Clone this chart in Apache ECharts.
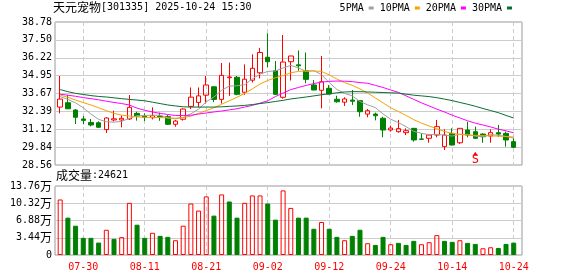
<!DOCTYPE html>
<html><head><meta charset="utf-8">
<script src="https://cdn.jsdelivr.net/npm/echarts@6/dist/echarts.min.js"></script>
<style>html,body{margin:0;padding:0;background:#fff}#c{width:578px;height:276px}</style>
</head><body><div id="c"></div>
<script>
const dates = ['07-25','07-28','07-29','07-30','07-31','08-01','08-04','08-05','08-06','08-07',
'08-08','08-11','08-12','08-13','08-14','08-15','08-18','08-19','08-20','08-21',
'08-22','08-25','08-26','08-27','08-28','08-29','09-01','09-02','09-03','09-04',
'09-05','09-08','09-09','09-10','09-11','09-12','09-15','09-16','09-17','09-18',
'09-19','09-22','09-23','09-24','09-25','09-26','09-29','09-30','10-09','10-10',
'10-13','10-14','10-15','10-16','10-17','10-20','10-21','10-22','10-23','10-24'];
const opens = [32.70,33.01,32.49,31.85,31.60,31.58,31.09,31.78,31.78,31.85,
32.25,32.05,31.94,32.05,32.01,31.47,31.83,32.75,33.03,33.55,
34.15,33.25,34.80,34.83,33.76,34.62,35.15,36.26,35.30,33.40,
35.94,35.72,35.30,34.28,33.90,34.04,33.26,33.05,33.20,33.16,
32.20,32.20,31.90,31.06,30.94,30.87,31.18,30.42,30.47,30.70,
29.87,30.82,30.15,31.06,30.94,30.77,30.63,30.87,30.82,30.23];
const closes = [33.27,32.58,31.97,31.75,31.42,31.26,31.92,31.86,31.90,32.68,
32.06,31.98,32.08,32.00,31.47,31.70,32.56,33.41,33.50,34.28,
33.25,34.97,34.85,33.61,34.69,35.47,36.60,35.94,33.61,35.92,
36.35,35.65,34.68,33.92,34.51,33.63,33.08,33.28,33.12,32.37,
32.44,32.08,31.06,31.20,31.16,31.01,30.35,30.40,30.70,31.30,
30.70,29.99,31.18,30.70,30.47,30.58,30.87,30.77,30.35,29.82];
const lows = [32.25,32.55,31.49,31.47,31.32,31.20,30.85,31.68,31.25,31.78,
31.73,31.70,31.82,31.72,31.42,31.30,31.73,32.56,32.68,32.95,
33.05,32.95,33.50,33.55,33.57,34.45,34.75,35.55,33.55,33.30,
34.60,35.30,34.40,33.90,32.61,33.60,33.01,32.78,32.85,32.01,
31.97,31.75,30.54,30.94,30.87,30.70,30.23,30.38,30.15,30.54,
29.63,29.95,30.06,30.54,30.42,30.15,30.15,30.58,29.87,29.80];
const highs = [34.92,33.56,32.55,32.06,31.85,31.68,31.97,32.44,32.10,33.56,
32.37,32.25,32.68,32.30,32.13,31.78,32.61,34.10,34.10,34.92,
34.20,35.85,35.88,34.92,35.75,36.47,36.93,37.97,35.99,37.85,
36.37,36.75,36.60,34.63,36.35,34.28,33.51,33.40,33.92,33.20,
32.56,32.30,32.01,31.37,31.78,31.18,31.20,30.82,30.72,31.78,
31.11,31.18,31.20,31.65,31.30,30.82,31.11,31.42,30.94,30.47];
// volume in 万 (10k shares)
const volumes = [11.07,7.45,5.84,3.42,3.42,2.48,5.03,3.22,3.56,10.40,
6.04,3.42,4.43,3.82,3.62,2.95,5.84,10.27,8.86,11.68,
7.85,12.08,10.67,7.45,10.40,11.88,11.88,10.27,7.05,12.88,
9.39,7.45,7.45,5.23,6.58,5.23,3.62,2.95,3.82,5.03,
2.35,2.01,3.62,2.15,2.42,2.01,2.82,2.15,2.55,3.96,
2.82,2.62,2.95,2.42,2.21,1.34,1.54,1.41,2.21,2.4621];
const ma5 = [33.45,33.25,33.00,32.65,32.20,31.82,31.65,31.62,31.68,31.90,
32.08,32.10,32.12,32.12,31.92,31.86,31.96,32.22,32.55,33.08,
33.42,33.90,34.20,34.22,34.30,34.72,35.05,35.25,35.28,35.50,
35.68,35.50,35.25,35.30,35.02,34.45,33.96,33.68,33.50,33.10,
32.86,32.66,32.21,31.83,31.59,31.30,30.96,30.82,30.73,30.75,
30.69,30.63,30.75,30.75,30.62,30.58,30.74,30.68,30.60,30.48];
const ma10 = [33.55,33.40,33.20,33.02,32.85,32.65,32.45,32.25,32.12,32.06,
32.00,31.97,31.95,31.95,31.92,31.90,31.95,32.05,32.25,32.45,
32.65,32.90,33.15,33.40,33.68,34.00,34.35,34.60,34.80,34.95,
35.15,35.25,35.28,35.28,35.25,35.00,34.70,34.45,34.25,34.00,
33.70,33.35,33.00,32.65,32.38,32.10,31.80,31.55,31.35,31.15,
30.95,30.82,30.75,30.70,30.68,30.66,30.64,30.62,30.60,30.56];
const ma20 = [33.62,33.55,33.47,33.38,33.30,33.22,33.12,33.03,32.95,32.85,
32.62,32.47,32.35,32.25,32.17,32.10,32.10,32.12,32.20,32.28,
32.35,32.42,32.50,32.58,32.70,32.82,32.98,33.15,33.45,33.70,
33.95,34.10,34.25,34.38,34.48,34.54,34.56,34.55,34.52,34.45,
34.40,34.25,34.10,33.92,33.75,33.50,33.25,33.00,32.78,32.55,
32.35,32.12,31.92,31.72,31.55,31.42,31.28,31.12,31.00,30.86];
const ma30 = [33.95,33.80,33.68,33.60,33.52,33.46,33.42,33.36,33.30,33.25,
33.20,33.15,33.05,32.95,32.85,32.78,32.72,32.70,32.70,32.70,
32.70,32.72,32.75,32.78,32.82,32.88,32.95,33.02,33.10,33.18,
33.28,33.35,33.42,33.50,33.58,33.65,33.72,33.78,33.80,33.80,
33.78,33.76,33.74,33.72,33.70,33.62,33.55,33.50,33.45,33.37,
33.27,33.16,33.03,32.90,32.76,32.60,32.45,32.30,32.10,31.92];
const priceTicks = ['28.56','29.84','31.12','32.39','33.67','34.95','36.22','37.50','38.78'];
const volTicks = ['0','3.44','6.88','10.32','13.76'];
const stockName = '天元宠物';
const stockInfo = '[301335] 2025-10-24 15:30';
const volTitle = '成交量';
const volLastText = ':24621';
const signalDate = '10-17';
const signalText = 'S';

const MONO = '"DejaVu Sans Mono", monospace';
const CJK = '"Noto Sans CJK SC", sans-serif';
const UP = '#ff0000', DOWN = '#008000';
const labelIdx = (i) => (i - 3) % 8 === 0;

const pMin = parseFloat(priceTicks[0]), pMax = parseFloat(priceTicks[priceTicks.length - 1]);
const vMax = parseFloat(volTicks[volTicks.length - 1]);

const kData = dates.map((d, i) => [opens[i], closes[i], lows[i], highs[i]]);
const volData = volumes.map((v, i) => {
  const up = i === 0 ? closes[i] >= opens[i] : closes[i] >= closes[i - 1];
  return { value: v, itemStyle: up ? { color: 'rgba(255,255,255,0)', borderColor: UP, borderWidth: 1 } : { color: DOWN, borderColor: DOWN, borderWidth: 1 } };
});

const dataLeft = 56.35, dataWidth = 461.2;
const frameLeft = 55, frameWidth = 467;

const richTxt = {
  c: { fontFamily: CJK, fontSize: 12, color: '#000', fontWeight: 'normal' },
  a: { fontFamily: MONO, fontSize: 10, color: '#000', fontWeight: 'normal' }
};

const chart = echarts.init(document.getElementById('c'), null, { renderer: 'canvas' });
const maLine = (name, data, color) => ({
  name, type: 'line', data, xAxisIndex: 1, yAxisIndex: 1, showSymbol: false, symbol: 'none',
  lineStyle: { width: 1, color }, itemStyle: { color }, silent: true, z: 3
});
chart.setOption({
  animation: false,
  backgroundColor: '#fff',
  title: [
    { text: '{c|' + stockName + '}{a|' + stockInfo + '}', left: 53, top: 1, padding: 0,
      textStyle: { fontWeight: 'normal', rich: richTxt } },
    { text: '{c|' + volTitle + '}{a|' + volLastText + '}', left: 56, top: 169, padding: 0,
      textStyle: { fontWeight: 'normal', rich: richTxt } }
  ],
  legend: {
    data: ['5PMA', '10PMA', '20PMA', '30PMA'], right: 66, top: 3, padding: 0,
    align: 'right', icon: 'rect', itemWidth: 5, itemHeight: 3, itemGap: 6,
    textStyle: { fontFamily: MONO, fontSize: 10, color: '#000' }
  },
  grid: [
    { left: frameLeft, top: 22, width: frameWidth, height: 143, show: true, borderColor: '#999', borderWidth: 1 },
    { left: dataLeft, top: 22, width: dataWidth, height: 143 },
    { left: frameLeft, top: 186, width: frameWidth, height: 69, show: true, borderColor: '#999', borderWidth: 1 },
    { left: dataLeft, top: 186, width: dataWidth, height: 69 }
  ],
  xAxis: [
    { type: 'value', gridIndex: 0, min: 0, max: 1, show: false },
    { type: 'category', gridIndex: 1, data: dates, boundaryGap: true,
      axisLine: { show: false }, axisTick: { show: false }, axisLabel: { show: false },
      splitLine: { show: true, interval: labelIdx, alignWithLabel: true, lineStyle: { color: '#ccc', type: [4, 3] } } },
    { type: 'value', gridIndex: 2, min: 0, max: 1, show: false },
    { type: 'category', gridIndex: 3, data: dates, boundaryGap: true,
      axisLine: { show: false }, axisTick: { show: false },
      axisLabel: { show: true, interval: labelIdx, color: UP, fontFamily: MONO, fontSize: 10, margin: 7 },
      splitLine: { show: true, interval: labelIdx, alignWithLabel: true, lineStyle: { color: '#ccc', type: [4, 3] } } }
  ],
  yAxis: [
    { type: 'value', gridIndex: 0, min: 0, max: priceTicks.length - 1, interval: 1,
      axisLine: { show: false }, axisTick: { show: false },
      axisLabel: { margin: 3, color: '#000', fontFamily: MONO, fontSize: 10, formatter: (v) => priceTicks[Math.round(v)] },
      splitLine: { show: true, lineStyle: { color: '#ccc', width: 1 } } },
    { type: 'value', gridIndex: 1, min: pMin, max: pMax, show: false, splitLine: { show: false } },
    { type: 'value', gridIndex: 2, min: 0, max: volTicks.length - 1, interval: 1,
      axisLine: { show: false }, axisTick: { show: false },
      axisLabel: { margin: 3, formatter: (v) => { const i = Math.round(v); return '{a|' + volTicks[i] + '}' + (i > 0 ? '{c|万}' : ''); },
        rich: richTxt },
      splitLine: { show: true, lineStyle: { color: '#ccc', width: 1 } } },
    { type: 'value', gridIndex: 3, min: 0, max: vMax, show: false, splitLine: { show: false } }
  ],
  series: [
    { name: 'K', type: 'candlestick', data: kData, xAxisIndex: 1, yAxisIndex: 1, barWidth: 5, silent: true,
      itemStyle: { color: 'rgba(255,255,255,0)', color0: DOWN, borderColor: UP, borderColor0: DOWN, borderWidth: 1 },
      markPoint: { silent: true, animation: false, data: [
        { coord: [signalDate, 29.36], symbol: 'triangle', symbolSize: [5, 4], itemStyle: { color: UP }, label: { show: false } },
        { coord: [signalDate, 28.90], symbol: 'rect', symbolSize: 1, itemStyle: { color: 'rgba(0,0,0,0)' },
          label: { show: true, position: 'inside', formatter: signalText, color: UP, fontFamily: MONO, fontSize: 12 } }
      ] } },
    maLine('5PMA', ma5, '#a0a0a0'),
    maLine('10PMA', ma10, '#f5a300'),
    maLine('20PMA', ma20, '#ff00ff'),
    maLine('30PMA', ma30, '#0a6e32'),
    { name: 'VOL', type: 'bar', data: volData, xAxisIndex: 3, yAxisIndex: 3, barWidth: 5, silent: true }
  ]
});
</script></body></html>
